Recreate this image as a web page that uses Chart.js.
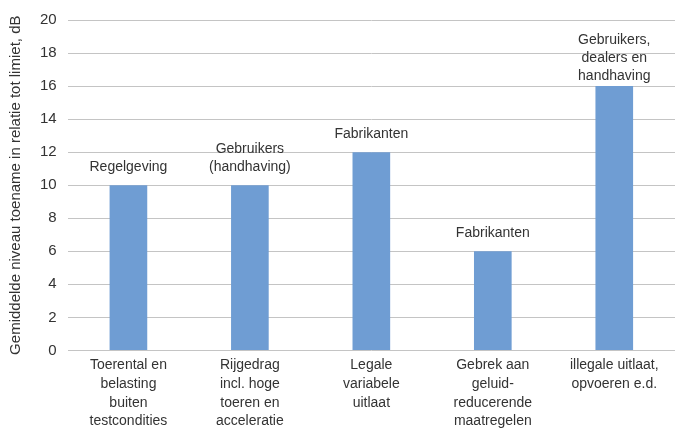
<!DOCTYPE html>
<html>
<head>
<meta charset="utf-8">
<script src="https://cdn.jsdelivr.net/npm/chart.js@4/dist/chart.umd.min.js"></script>
<style>
  html, body { margin: 0; padding: 0; background: #fff; }
  #wrap { width: 675px; height: 428px; }
</style>
</head>
<body>
<div id="wrap"><canvas id="chart"></canvas></div>
<script>
var categories = [
    ["Toerental en", "belasting", "buiten", "testcondities"],
    ["Rijgedrag", "incl. hoge", "toeren en", "acceleratie"],
    ["Legale", "variabele", "uitlaat"],
    ["Gebrek aan", "geluid-", "reducerende", "maatregelen"],
    ["illegale uitlaat,", "opvoeren e.d."]
];
var values = [10, 10, 12, 6, 16];
var barLabels = [
    ["Regelgeving"],
    ["Gebruikers", "(handhaving)"],
    ["Fabrikanten"],
    ["Fabrikanten"],
    ["Gebruikers,", "dealers en", "handhaving"]
];
var yTitle = "Gemiddelde niveau toename in relatie tot limiet, dB";

var fontName = "'Liberation Sans', Arial, sans-serif";
var textColor = "#333333";

// labels above each bar
var barLabelPlugin = {
    id: "barLabels",
    afterDatasetsDraw: function(chart) {
        var ctx = chart.ctx;
        var meta = chart.getDatasetMeta(0);
        ctx.save();
        ctx.font = "14px " + fontName;
        ctx.fillStyle = textColor;
        ctx.textAlign = "center";
        ctx.textBaseline = "middle";
        meta.data.forEach(function(bar, i) {
            var lines = barLabels[i];
            var n = lines.length;
            var gap = n > 2 ? 10 : 18;
            for (var k = 0; k < n; k++) {
                var y = bar.y - gap - (n - 1 - k) * 18;
                ctx.fillText(lines[k], bar.x, y);
            }
        });
        ctx.restore();
    }
};

var ctx = document.getElementById("chart").getContext("2d");
var myChart = new Chart(ctx, {
    type: "bar",
    data: {
        labels: categories,
        datasets: [{
            data: values,
            backgroundColor: "#6f9dd3",
            categoryPercentage: 1,
            barPercentage: 0.31
        }]
    },
    options: {
        responsive: true,
        maintainAspectRatio: false,
        animation: false,
        layout: { padding: { top: 3, right: 0, bottom: 0, left: 7 } },
        plugins: {
            legend: { display: false },
            tooltip: { enabled: false }
        },
        scales: {
            x: {
                grid: { display: false },
                border: { display: false },
                ticks: {
                    color: textColor,
                    font: { family: fontName, size: 14, lineHeight: 1.35 },
                    maxRotation: 0,
                    autoSkip: false,
                    padding: -3
                }
            },
            y: {
                min: 0,
                max: 20,
                ticks: {
                    stepSize: 2,
                    color: textColor,
                    font: { family: fontName, size: 15 },
                    padding: 11
                },
                grid: { color: "#c4c4c4", lineWidth: 1, drawTicks: false },
                border: { display: false },
                title: {
                    display: true,
                    text: yTitle,
                    color: textColor,
                    font: { family: fontName, size: 15 },
                    padding: { top: 0, bottom: 4 }
                }
            }
        }
    },
    plugins: [barLabelPlugin]
});
</script>
</body>
</html>
